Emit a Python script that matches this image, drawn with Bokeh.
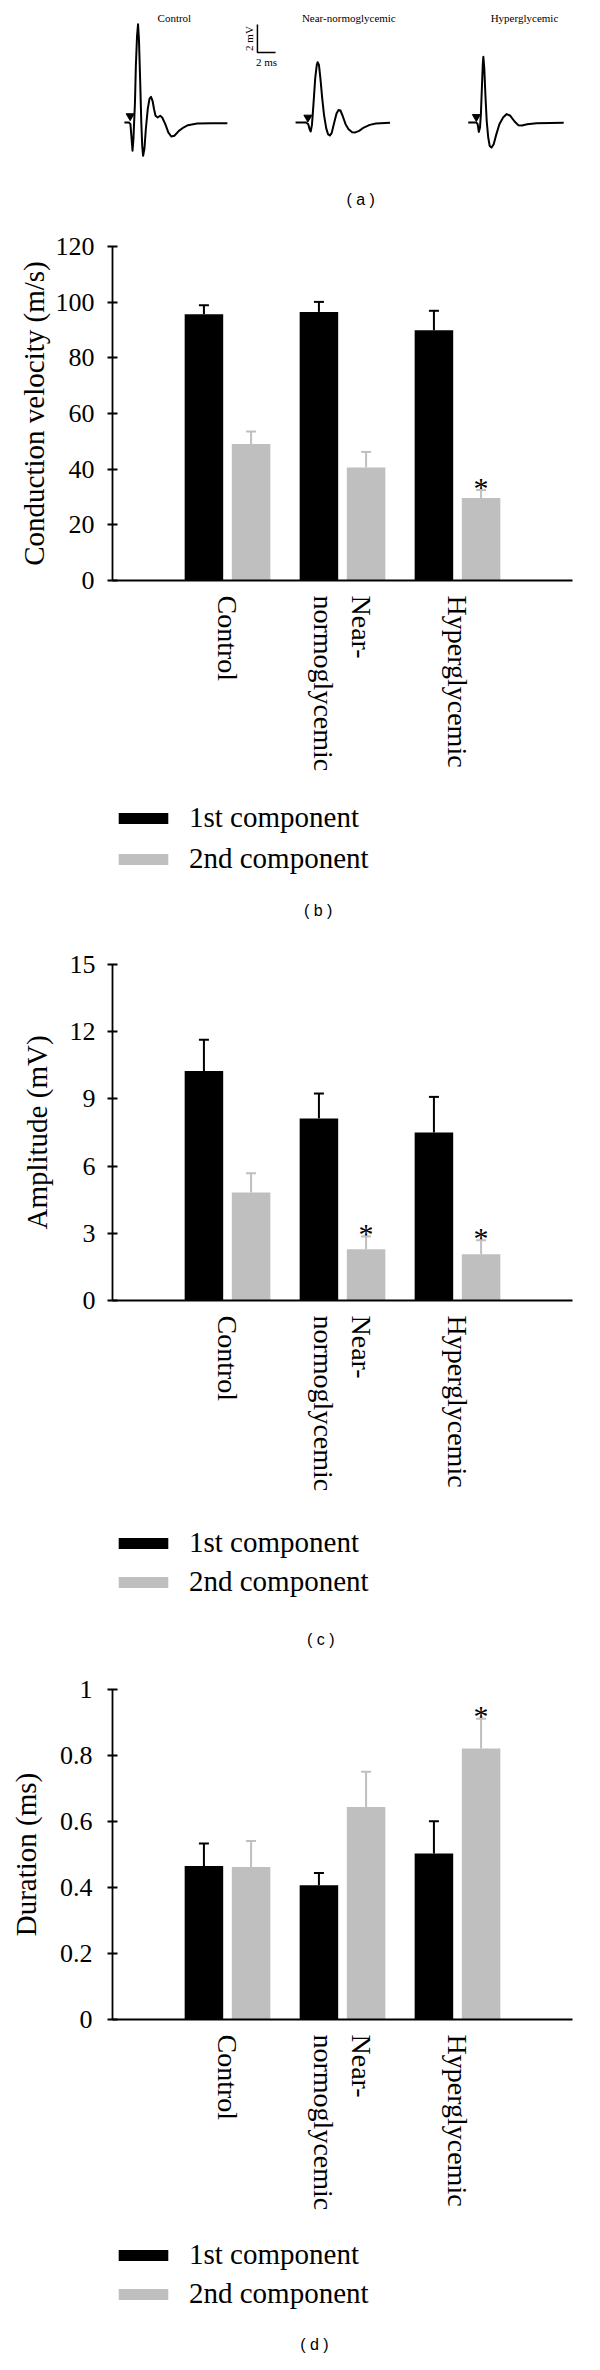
import math
from bokeh.plotting import figure
from bokeh.models import (Range1d, FixedTicker, NumeralTickFormatter, ColumnDataSource,
                          Whisker, TeeHead, Legend, LegendItem)
from bokeh.layouts import column
from bokeh.core.properties import value
from bokeh.embed import file_html
from bokeh.resources import INLINE

# ---------------- data ----------------
groups = ["Control", "Near-normoglycemic", "Hyperglycemic"]
group_tick_labels = ["Control", "Near-\nnormoglycemic", "Hyperglycemic"]
components = ["1st component", "2nd component"]

# (a) representative compound action potentials: time (ms), voltage (mV)
ctrl_t = [0, 0.50, 0.67, 0.80, 0.90, 1.00, 1.17, 1.27, 1.40, 1.51, 1.61, 1.74, 1.87, 1.97,
          2.07, 2.21, 2.37, 2.58, 2.78, 2.94, 3.11, 3.28, 3.44, 3.68, 3.95, 4.18, 4.52,
          4.85, 5.18, 5.52, 6.02, 6.52, 7.02, 8.03, 9.70, 11.37]
ctrl_v = [0, 0, -0.12, -1.19, -2.02, -1.19, 1.43, 4.05, 6.19, 7.02, 5.95, 3.10, 0, -1.67,
          -2.38, -1.90, -0.48, 0.95, 1.71, 1.83, 1.55, 0.95, 0.48, 0.36, 0.48, 0.36, -0.12,
          -0.71, -1.00, -0.95, -0.60, -0.36, -0.19, -0.07, -0.05, -0.05]
near_t = [0, 1.17, 1.40, 1.57, 1.67, 1.81, 1.97, 2.17, 2.34, 2.44, 2.58, 2.74, 2.94, 3.14,
          3.38, 3.58, 3.78, 3.98, 4.25, 4.52, 4.75, 4.95, 5.18, 5.52, 5.85, 6.25, 6.59,
          7.02, 7.53, 8.19, 8.86, 10.43]
near_v = [0, 0, -0.12, -0.52, -0.64, -0.17, 1.26, 3.17, 4.10, 4.31, 4.12, 3.17, 1.74, 0.55,
          -0.40, -0.83, -0.93, -0.76, -0.05, 0.64, 0.90, 0.86, 0.50, -0.12, -0.48, -0.69, -0.71,
          -0.60, -0.36, -0.17, -0.07, -0.02]
hyper_t = [0, 0.90, 1.04, 1.17, 1.30, 1.40, 1.51, 1.61, 1.67, 1.77, 1.91, 2.04, 2.21, 2.37,
           2.58, 2.81, 3.11, 3.44, 3.85, 4.25, 4.65, 5.12, 5.52, 5.92, 6.52, 7.53, 10.54]
hyper_v = [0, 0, -0.12, -0.67, -0.36, 0.60, 2.50, 4.17, 4.69, 3.93, 1.79, 0.12, -1.07, -1.67,
           -1.79, -1.55, -0.83, -0.12, 0.36, 0.60, 0.48, 0.07, -0.19, -0.21, -0.12, -0.05, -0.02]
stim_t = [0.64, 1.36, 0.90]      # stimulus marker (ms after trace start)
stim_v = [0.46, 0.36, 0.40]
scale_mv = 2
scale_ms = 2

# (b) conduction velocity (m/s)
cv_first = [95.7, 96.5, 89.9]
cv_first_err = [3.2, 3.6, 7.0]
cv_second = [49.0, 40.6, 29.6]
cv_second_err = [4.5, 5.6, 2.9]
cv_second_sig = [False, False, True]

# (c) amplitude (mV)
amp_first = [10.25, 8.13, 7.50]
amp_first_err = [1.39, 1.11, 1.59]
amp_second = [4.82, 2.29, 2.07]
amp_second_err = [0.86, 0.57, 0.62]
amp_second_sig = [False, True, True]

# (d) duration (ms)
dur_first = [0.465, 0.407, 0.503]
dur_first_err = [0.068, 0.037, 0.098]
dur_second = [0.462, 0.644, 0.821]
dur_second_err = [0.079, 0.107, 0.090]
dur_second_sig = [False, False, True]

# ---------------- style ----------------
SERIF = "Liberation Serif"
SANS = "Liberation Sans"
BLACK = "#000000"
GRAY = "#BFBFBF"
W = 584
BAR_OFFSET = 0.205
BAR_W = 0.335


def panel_a():
    px_ms, px_mv = 11.5, 14.0
    h = 224
    base_from_top = 122
    p = figure(width=W, height=h, x_range=Range1d(0, W / px_ms),
               y_range=Range1d(-(h - base_from_top) / px_mv, base_from_top / px_mv),
               x_axis_type=None, y_axis_type=None, min_border=0, title=None,
               toolbar_location=None, output_backend="svg")
    p.outline_line_color = None
    onsets = [1.31, 20.21, 39.27]
    traces = [(ctrl_t, ctrl_v), (near_t, near_v), (hyper_t, hyper_v)]
    for (t, v), on, st, sv in zip(traces, onsets, stim_t, stim_v):
        p.line([on + q for q in t], v, line_color=BLACK, line_width=2, line_join="round")
        p.scatter([on + st], [sv], marker="inverted_triangle", size=8, color=BLACK)
    title_x = [6.83, 26.09, 45.48]
    p.text(x=title_x, y=[7.43] * 3, text=groups, text_align="center", text_baseline="middle",
           text_font=value(SERIF), text_font_size="11px", text_color=BLACK)
    # scale bar
    x0, y0 = 16.0, 5.0
    p.line([x0, x0, x0 + scale_ms], [y0 + scale_mv, y0, y0], line_color=BLACK, line_width=1.5)
    p.text(x=[x0 - 0.3], y=[y0 + scale_mv / 2], text=[f"{scale_mv} mV"], angle=math.pi / 2,
           text_align="center", text_baseline="bottom", text_font=value(SERIF),
           text_font_size="11px", text_color=BLACK)
    p.text(x=[x0 + scale_ms / 2], y=[y0], text=[f"{scale_ms} ms"], y_offset=3,
           text_align="center", text_baseline="top", text_font=value(SERIF),
           text_font_size="11px", text_color=BLACK)
    p.text(x=[27.4], y=[-5.5], text=["( a )"], text_align="center", text_baseline="middle",
           text_font=value(SANS), text_font_size="16px", text_color=BLACK)
    return p


def bar_chart(first, first_err, second, second_err, second_sig, ylabel, ymax, yticks,
              height, b_top, b_bottom, b_left, b_right, tick_standoff, title_standoff,
              fmt=None):
    n = len(groups)
    p = figure(width=W, height=height, x_range=Range1d(0, n + 1), y_range=Range1d(0, ymax),
               min_border_top=b_top, min_border_bottom=b_bottom, min_border_left=b_left,
               min_border_right=b_right, title=None, toolbar_location=None,
               output_backend="svg")
    p.grid.visible = False
    p.outline_line_color = None
    pos = list(range(1, n + 1))
    src1 = ColumnDataSource(dict(x=[q - BAR_OFFSET for q in pos], top=first,
                                 up=[v + e for v, e in zip(first, first_err)]))
    src2 = ColumnDataSource(dict(x=[q + BAR_OFFSET for q in pos], top=second,
                                 up=[v + e for v, e in zip(second, second_err)]))
    for src, col in ((src1, BLACK), (src2, GRAY)):
        p.vbar(x="x", top="top", width=BAR_W, source=src, fill_color=col, line_color=None)
        p.add_layout(Whisker(base="x", upper="up", lower="top", source=src, line_color=col,
                             line_width=2, level="glyph",
                             upper_head=TeeHead(size=10, line_color=col, line_width=2),
                             lower_head=None))
    sx = [x for x, s in zip(src2.data["x"], second_sig) if s]
    sy = [u for u, s in zip(src2.data["up"], second_sig) if s]
    p.text(x=sx, y=sy, text=["*"] * len(sx), text_align="center", text_baseline="alphabetic",
           y_offset=-3, text_font=value(SERIF), text_font_size="30px", text_color=BLACK)

    ya = p.yaxis[0]
    ya.ticker = FixedTicker(ticks=yticks)
    if fmt:
        ya.formatter = NumeralTickFormatter(format=fmt)
    ya.major_tick_in = 5
    ya.major_tick_out = 5
    ya.minor_tick_in = 0
    ya.minor_tick_out = 0
    ya.major_tick_line_width = 1.8
    ya.axis_line_width = 1.8
    ya.axis_line_color = BLACK
    ya.major_tick_line_color = BLACK
    ya.major_label_text_font = SERIF
    ya.major_label_text_font_size = "26px"
    ya.major_label_text_color = BLACK
    ya.major_label_standoff = tick_standoff
    ya.axis_label = ylabel
    ya.axis_label_text_font = SERIF
    ya.axis_label_text_font_size = "29px"
    ya.axis_label_text_font_style = "normal"
    ya.axis_label_text_color = BLACK
    ya.axis_label_standoff = title_standoff

    xa = p.xaxis[0]
    xa.ticker = FixedTicker(ticks=pos)
    xa.major_label_overrides = dict(zip(pos, group_tick_labels))
    xa.major_label_orientation = "vertical"
    xa.major_tick_in = 0
    xa.major_tick_out = 0
    xa.minor_tick_in = 0
    xa.minor_tick_out = 0
    xa.axis_line_width = 1.8
    xa.axis_line_color = BLACK
    xa.major_label_text_font = SERIF
    xa.major_label_text_font_size = "28px"
    xa.major_label_text_color = BLACK
    xa.major_label_standoff = 15
    return p


def legend_fig(height, left, top, spacing, panel_label, label_x, label_y):
    # the frame starts where the legend's top-left corner belongs
    p = figure(width=W, height=height, x_range=Range1d(0, W - left),
               y_range=Range1d(0, height - top), x_axis_type=None, y_axis_type=None,
               min_border_left=left, min_border_top=top, min_border_right=0,
               min_border_bottom=0, title=None, toolbar_location=None,
               output_backend="svg")
    p.outline_line_color = None
    # legend-only swatch renderers: zero-height, parked far outside the visible range
    r1 = p.vbar(x=[-1e6], top=[0], width=1, fill_color=BLACK, line_color=None)
    r2 = p.vbar(x=[-1e6], top=[0], width=1, fill_color=GRAY, line_color=None)
    leg = Legend(items=[LegendItem(label=components[0], renderers=[r1]),
                        LegendItem(label=components[1], renderers=[r2])],
                 location="top_left", orientation="vertical", margin=0, padding=0,
                 border_line_color=None, background_fill_alpha=0,
                 glyph_width=62, glyph_height=14, label_height=30, label_standoff=15,
                 spacing=spacing, label_text_font=SERIF, label_text_font_size="29px",
                 label_text_color=BLACK, label_text_baseline="middle")
    p.add_layout(leg)
    p.text(x=[label_x - left], y=[label_y], text=[panel_label], text_align="center",
           text_baseline="middle", text_font=value(SANS), text_font_size="16px",
           text_color=BLACK)
    return p


pa = panel_a()
pb = bar_chart(cv_first, cv_first_err, cv_second, cv_second_err, cv_second_sig,
               "Conduction velocity (m/s)", 120, [0, 20, 40, 60, 80, 100, 120],
               568, 22, 212, 107, 12, 13, 3)
lb = legend_fig(140, 101, 9, 8, "( b )", 317, 22)
pc = bar_chart(amp_first, amp_first_err, amp_second, amp_second_err, amp_second_sig,
               "Amplitude (mV)", 15, [0, 3, 6, 9, 12, 15],
               585, 32, 217, 102, 10, 12, 14)
lc = legend_fig(135, 96, 9, 6, "( c )", 317, 13)
pd = bar_chart(dur_first, dur_first_err, dur_second, dur_second_err, dur_second_sig,
               "Duration (ms)", 1, [0, 0.2, 0.4, 0.6, 0.8, 1.0],
               575, 37, 208, 112, 12, 15, 15, fmt="0.[0]")
ld = legend_fig(127, 108, 11, 6, "( d )", 317, 10)

layout = column(pa, pb, lb, pc, lc, pd, ld, spacing=0)
open("out.html", "w").write(file_html(layout, INLINE))
